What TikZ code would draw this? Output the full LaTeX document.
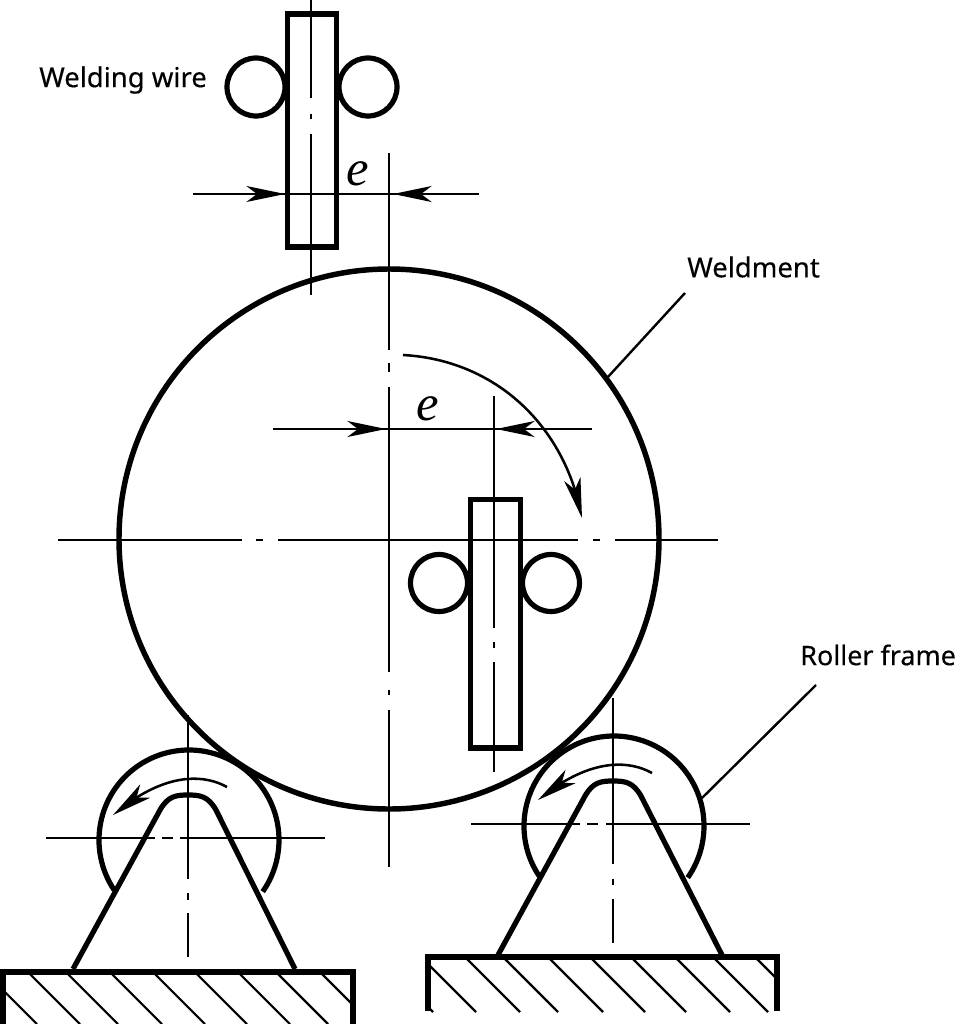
\documentclass[tikz,border=0pt]{standalone}
\usepackage{fontspec}
\setmainfont{Noto Sans}[FakeBold=0.35]
\newfontfamily\efont{Liberation Serif}
\usetikzlibrary{arrows.meta,bending}
\tikzset{
  x=0.75pt,y=-0.75pt,
  thick line/.style={line width=3.9pt,line cap=butt,line join=miter},
  base line/.style={line width=4.1pt,line join=miter},
  thin line/.style={line width=1.8pt},
  axis line/.style={line width=1.8pt},
  hatch line/.style={line width=1.6pt},
  dim tip/.style={-{Stealth[length=29pt,width=12pt,inset=8pt]},line width=1.8pt},
  turn tip/.style={-{Stealth[length=30pt,width=12.5pt,inset=8pt,flex=1]},line width=1.9pt},
  label text/.style={inner sep=0pt,font=\bfseries\fontsize{20.6pt}{23pt}\selectfont},
  roller text/.style={inner sep=0pt,font=\bfseries\fontsize{20.2pt}{23pt}\selectfont},
  e text/.style={inner sep=0pt,font=\fontsize{38pt}{40pt}\selectfont\efont\itshape},
  wire box/.style={thick line,fill=white},
}
\begin{document}
\begin{tikzpicture}
\useasboundingbox (0,0) rectangle (964,1024);
\fill[white] (0,0) rectangle (964,1024);

% named anchors
\coordinate (bigC) at (389,539);
\coordinate (rollL) at (189,840);
\coordinate (rollR) at (614,826);
\coordinate (wA) at (685,293);
\coordinate (wB) at (607,378);
\coordinate (rA) at (816,685);
\coordinate (rB) at (702,798);

% big weldment circle
\draw[line width=4.1pt] (bigC) circle[radius=270];

% top wire + rollers
\draw[thick line] (256,87) circle[radius=29];
\draw[thick line] (368,87) circle[radius=29];
\draw[wire box] (287.5,14) rectangle (336.5,247);

% lower wire + rollers
\draw[thick line] (439,583) circle[radius=28.5];
\draw[thick line] (551,583) circle[radius=28.5];
\draw[wire box] (470.5,499.5) rectangle (520.5,748);

% axes: top wire
\draw[axis line] (311,0) -- (311,98) (311,114) -- (311,119) (311,134) -- (311,295);
% axes: big circle
\draw[axis line] (389,153) -- (389,350) (389,363) -- (389,372) (389,387) -- (389,672)
  (389,690) -- (389,695) (389,710) -- (389,867);
\draw[axis line] (58,540) -- (242,540) (256,540) -- (263,540) (278,540) -- (578,540)
  (593,540) -- (600,540) (615,540) -- (718,540);
% axes: lower wire
\draw[axis line] (494,396) -- (494,628) (494,642) -- (494,648) (494,662) -- (494,772);

% dimension e (top)
\draw[axis line] (193,194) -- (479,194);
\coordinate (t1a) at (246,194); \coordinate (t1b) at (285,194);
\coordinate (t2a) at (431,194); \coordinate (t2b) at (393,194);
\draw[dim tip] (t1a) -- (t1b);
\draw[dim tip] (t2a) -- (t2b);
\node[e text] (e1) at (358,174) {e};

% dimension e (middle)
\draw[axis line] (273,429) -- (592,429);
\coordinate (m1a) at (345,429); \coordinate (m1b) at (386,429);
\coordinate (m2a) at (536,429); \coordinate (m2b) at (496,429);
\draw[dim tip] (m1a) -- (m1b);
\draw[dim tip] (m2a) -- (m2b);
\node[e text] (e2) at (428,409) {e};

% rotation arrow of weldment
\draw[turn tip] (403,355) .. controls (495,360) and (565,425) .. (582,518);

% left roller
\draw[thick line] ([shift={(146:90)}]rollL) arc[start angle=146,end angle=395,radius=90];
\draw[axis line] (188,715) -- (188,879) (188,893) -- (188,900) (188,913) -- (188,957);
\draw[axis line] (46,838) -- (155,838) (162,838) -- (173,838) (180,838) -- (325,838);
\draw[line width=3.9pt] (73,969) -- (160,810) .. controls (168,796) and (176,795) .. (188,795)
  .. controls (200,795) and (208,796) .. (216,810) -- (295,969);
\draw[turn tip] (227,787) .. controls (200,772) and (160,775) .. (113,815);

% right roller
\draw[thick line] ([shift={(146:90)}]rollR) arc[start angle=146,end angle=395,radius=90];
\draw[axis line] (613,698) -- (613,864) (613,879) -- (613,885) (613,899) -- (613,943);
\draw[axis line] (471,824) -- (580,824) (587,824) -- (598,824) (606,824) -- (750,824);
\draw[line width=3.9pt] (498,955) -- (585,796) .. controls (593,782) and (601,781) .. (613,781)
  .. controls (625,781) and (633,782) .. (641,796) -- (722,955);
\draw[turn tip] (652,773) .. controls (625,758) and (585,761) .. (538,800);

% left base
\draw[base line] (3,1024) -- (3,972) -- (353,972) -- (353,1024);
\draw[hatch line] (30,974) -- (80,1024) (68,974) -- (118,1024) (112,974) -- (162,1024)
  (155,974) -- (205,1024) (197,974) -- (247,1024) (240,974) -- (290,1024)
  (278,974) -- (328,1024) (322,974) -- (351,1003) (5,992) -- (37,1024);

% right base
\draw[base line] (428,1011) -- (428,957) -- (777,957) -- (777,1011);
\draw[hatch line] (467,959) -- (520,1012) (505,959) -- (558,1012) (550,959) -- (603,1012)
  (592,959) -- (645,1012) (633,959) -- (686,1012) (677,959) -- (730,1012)
  (715,959) -- (768,1012) (757,959) -- (775,977) (430,966) -- (476,1012) (430,1009) -- (433,1012);

% leaders
\draw[thin line] (wA) -- (wB);
\draw[thin line] (rA) -- (rB);

% labels
\node[label text,anchor=west] (lw) at (39,80) {Welding wire};
\node[label text,anchor=west] (lm) at (687,267) {Weldment};
\node[roller text,anchor=west] (lr) at (800,655) {Roller frame};
\end{tikzpicture}
\end{document}
